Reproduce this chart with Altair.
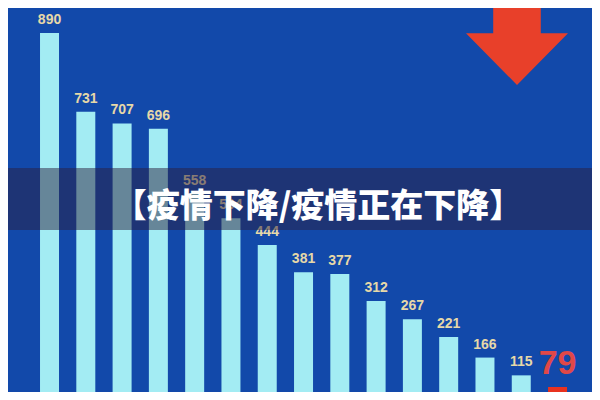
import altair as alt
import pandas as pd

# data
days = ["d01", "d02", "d03", "d04", "d05", "d06", "d07", "d08",
        "d09", "d10", "d11", "d12", "d13", "d14", "d15"]
cases = [890, 731, 707, 696, 558, 504, 444, 381, 377, 312, 267, 221, 166, 115, 79]
kinds = ["past"] * 14 + ["latest"]
banner_text = ["【疫情下降/疫情正在下降】"]

df = pd.DataFrame({"day": days, "cases": cases, "kind": kinds})
banner_df = pd.DataFrame({"text": banner_text})

x = alt.X("day:N", sort=None, axis=None,
          scale=alt.Scale(paddingInner=0.4765, paddingOuter=0.785, align=0.562))
y = alt.Y("cases:Q", axis=None,
          scale=alt.Scale(type="pow", exponent=1.2, domain=[62.6, 939.3]))

base = alt.Chart(df).encode(x=x, y=y)

bars = base.mark_bar(clip=True).encode(
    color=alt.Color("kind:N", legend=None,
                    scale=alt.Scale(domain=["past", "latest"],
                                    range=["#a3ecf3", "#e8321f"]))
)

labels = base.transform_filter(alt.datum.kind == "past").mark_text(
    baseline="bottom", dy=-6, font="Liberation Sans", fontWeight="bold",
    fontSize=14, color="#e6d8a8"
).encode(text="cases:Q")

latest_label = base.transform_filter(alt.datum.kind == "latest").mark_text(
    baseline="bottom", dy=-6, font="Liberation Sans", fontWeight="bold",
    fontSize=34, color="#e04848"
).encode(text="cases:Q")

banner = alt.Chart(banner_df).mark_rect(color="#2a2040", opacity=0.5).encode(
    x=alt.value(0), x2=alt.value(584), y=alt.value(160), y2=alt.value(222)
)

banner_label = alt.Chart(banner_df).mark_text(
    font="Noto Sans CJK SC", fontWeight=900, fontSize=33, color="white",
    baseline="middle", align="center"
).encode(x=alt.value(310), y=alt.value(199), text="text:N")

arrow_path = ("M -0.28 -1 L 0.28 -1 L 0.28 0.39 L 0.6 0.39 L 0 1 "
              "L -0.6 0.39 L -0.28 0.39 Z")
arrow = alt.Chart(banner_df).mark_point(
    shape=arrow_path, size=28900, filled=True, color="#e8402a",
    opacity=1, strokeWidth=0, clip=True
).encode(x=alt.value(509), y=alt.value(-8))

chart = alt.layer(bars, labels, latest_label, banner, banner_label, arrow).properties(
    width=584, height=384,
    autosize=alt.AutoSizeParams(type="fit", contains="padding"),
    padding=0, background="#1249aa"
).configure_view(stroke=None)

chart.save("out.html", embed_options={"renderer": "svg", "actions": False})
